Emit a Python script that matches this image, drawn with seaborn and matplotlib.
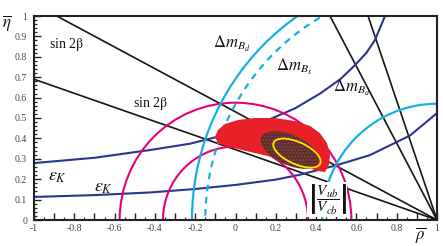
import pandas as pd
import seaborn as sns
import matplotlib.pyplot as plt
from matplotlib.patches import Circle, Polygon, Ellipse
from matplotlib.ticker import MultipleLocator, FuncFormatter

# sin2beta lines: far end of each line, every line ends at (1, 0)
beta_rho = [-1.0, -0.887, 0.469, 0.658]
beta_eta = [0.69, 1.0, 1.0, 1.0]

# eps_K bands
epsk_up_rho = [-1.0, -0.7, -0.424, -0.226, 0.0, 0.156, 0.295, 0.42, 0.52, 0.593, 0.65, 0.692, 0.742]
epsk_up_eta = [0.279, 0.305, 0.343, 0.374, 0.43, 0.488, 0.547, 0.62, 0.69, 0.759, 0.82, 0.882, 1.0]
epsk_lo_rho = [-1.0, -0.7, -0.424, -0.2, 0.0, 0.2, 0.32, 0.5, 0.667, 0.866, 0.995]
epsk_lo_eta = [0.113, 0.122, 0.135, 0.152, 0.172, 0.198, 0.222, 0.268, 0.318, 0.414, 0.52]

# circle radii
vub_r = [0.36, 0.575]        # centred on (0, 0)
dmd_r = [1.216, 0.57]        # centred on (1, 0)
dms_r = [1.15]               # centred on (1, 0)

# 95% region outline
blob_rho = [-0.102, -0.087, -0.052, 0.012, 0.097, 0.196, 0.295, 0.370, 0.419, 0.454, 0.469,
            0.464, 0.444, 0.409, 0.345, 0.270, 0.181, 0.097, 0.012, -0.052, -0.087]
blob_eta = [0.407, 0.441, 0.471, 0.490, 0.500, 0.500, 0.485, 0.461, 0.426, 0.377, 0.319,
            0.270, 0.235, 0.240, 0.260, 0.284, 0.309, 0.328, 0.348, 0.363, 0.377]

# inner regions: centre rho, centre eta, width, height, angle
dark_ell = [0.27, 0.343, 0.31, 0.147, -24]
yellow_ell = [0.305, 0.328, 0.253, 0.108, -24]

navy = '#2b3590'
cyan = '#1aaee5'
magenta = '#e5007d'
red = '#e8202a'

sns.set_theme(style='ticks')
plt.rcParams['font.family'] = ['Liberation Serif', 'DejaVu Serif']
plt.rcParams['mathtext.fontset'] = 'stix'
plt.rcParams['axes.unicode_minus'] = False

fig = plt.figure(figsize=(4.43, 2.46), dpi=100)
ax = fig.add_axes([34 / 443, 26 / 246, 403 / 443, 204 / 246])

# black sin2beta lines
lines = pd.DataFrame({
    'rho': [v for r in beta_rho for v in (r, 1.0)],
    'eta': [v for e in beta_eta for v in (e, 0.0)],
    'line': [i for i in range(len(beta_rho)) for _ in range(2)],
})
sns.lineplot(data=lines, x='rho', y='eta', units='line', estimator=None, sort=False,
             color='#151515', lw=1.2, ax=ax, zorder=2)

# eps_K curves
epsk = pd.DataFrame({
    'rho': epsk_up_rho + epsk_lo_rho,
    'eta': epsk_up_eta + epsk_lo_eta,
    'curve': ['up'] * len(epsk_up_rho) + ['lo'] * len(epsk_lo_rho),
})
sns.lineplot(data=epsk, x='rho', y='eta', units='curve', estimator=None, sort=False,
             color=navy, lw=1.5, ax=ax, zorder=2)

for r in vub_r:
    ax.add_patch(Circle((0, 0), r, fill=False, ec=magenta, lw=1.5, zorder=2))
for r in dmd_r:
    ax.add_patch(Circle((1, 0), r, fill=False, ec=cyan, lw=1.6, zorder=2))
for r in dms_r:
    ax.add_patch(Circle((1, 0), r, fill=False, ec=cyan, lw=1.6, ls=(0, (3, 2.5)), zorder=2))

ax.add_patch(Polygon(list(zip(blob_rho, blob_eta)), closed=True, fc=red, ec='none', zorder=3))
c_r, c_e, w, h, a = dark_ell
ax.add_patch(Ellipse((c_r, c_e), w, h, angle=a, fc='#4a3532', ec='#b0302c', lw=0,
                     hatch='.....', zorder=4))
c_r, c_e, w, h, a = yellow_ell
ax.add_patch(Ellipse((c_r, c_e), w, h, angle=a, fill=False, ec='#ffe600', lw=1.3, zorder=5))

# labels
kw = dict(color='#111111', ha='center', va='center', zorder=6)
ax.text(-0.836, 0.862, r'sin 2$\mathrm{\beta}$', fontsize=10, **kw)
ax.text(-0.424, 0.571, r'sin 2$\mathrm{\beta}$', fontsize=10, **kw)
ax.text(-0.02, 0.862, r'$\Delta m_{B_d}$', fontsize=12, **kw)
ax.text(0.29, 0.75, r'$\Delta m_{B_s}$', fontsize=12, **kw)
ax.text(0.575, 0.645, r'$\Delta m_{B_d}$', fontsize=12, **kw)
ax.text(-0.885, 0.215, r'$\varepsilon_K$', fontsize=13, **kw)
ax.text(-0.655, 0.16, r'$\varepsilon_K$', fontsize=13, **kw)
ax.text(0.455, 0.1, r'$\left|\dfrac{V_{ub}}{V_{cb}}\right|$', fontsize=11,
        zorder=6, color='#111111', ha='center', va='center',
        bbox=dict(fc='white', ec='none', pad=0.3))
ax.text(0.92, -0.075, r'$\overline{\rho}$', fontsize=12, ha='center', va='center',
        color='#111111', clip_on=False)
ax.text(-0.068, 0.965, r'$\overline{\eta}$', fontsize=12, ha='center', va='center',
        color='#111111', transform=ax.transAxes, clip_on=False)

ax.set_xlim(-1, 1)
ax.set_ylim(0, 1)
ax.set_xlabel('')
ax.set_ylabel('')

ax.xaxis.set_major_locator(MultipleLocator(0.1))
ax.xaxis.set_minor_locator(MultipleLocator(0.05))
ax.yaxis.set_major_locator(MultipleLocator(0.1))
ax.yaxis.set_minor_locator(MultipleLocator(0.02))


def xfmt(v, pos):
    k = round(v * 10)
    return f'{k / 10:g}' if k % 2 == 0 else ''


ax.xaxis.set_major_formatter(FuncFormatter(xfmt))
ax.yaxis.set_major_formatter(FuncFormatter(lambda v, pos: f'{round(v * 10) / 10:g}'))
ax.tick_params(which='major', direction='in', length=5, width=1.0, labelsize=7,
               labelcolor='#444444', color='#222222')
ax.tick_params(which='minor', direction='in', length=2.5, width=0.9, color='#222222')
ax.tick_params(axis='y', pad=5)
ax.tick_params(axis='x', pad=3)
ax.tick_params(top=False, right=False, which='both')
for s in ax.spines.values():
    s.set_linewidth(1.5)
    s.set_color('#222222')

fig.savefig('out.png', dpi=100)
